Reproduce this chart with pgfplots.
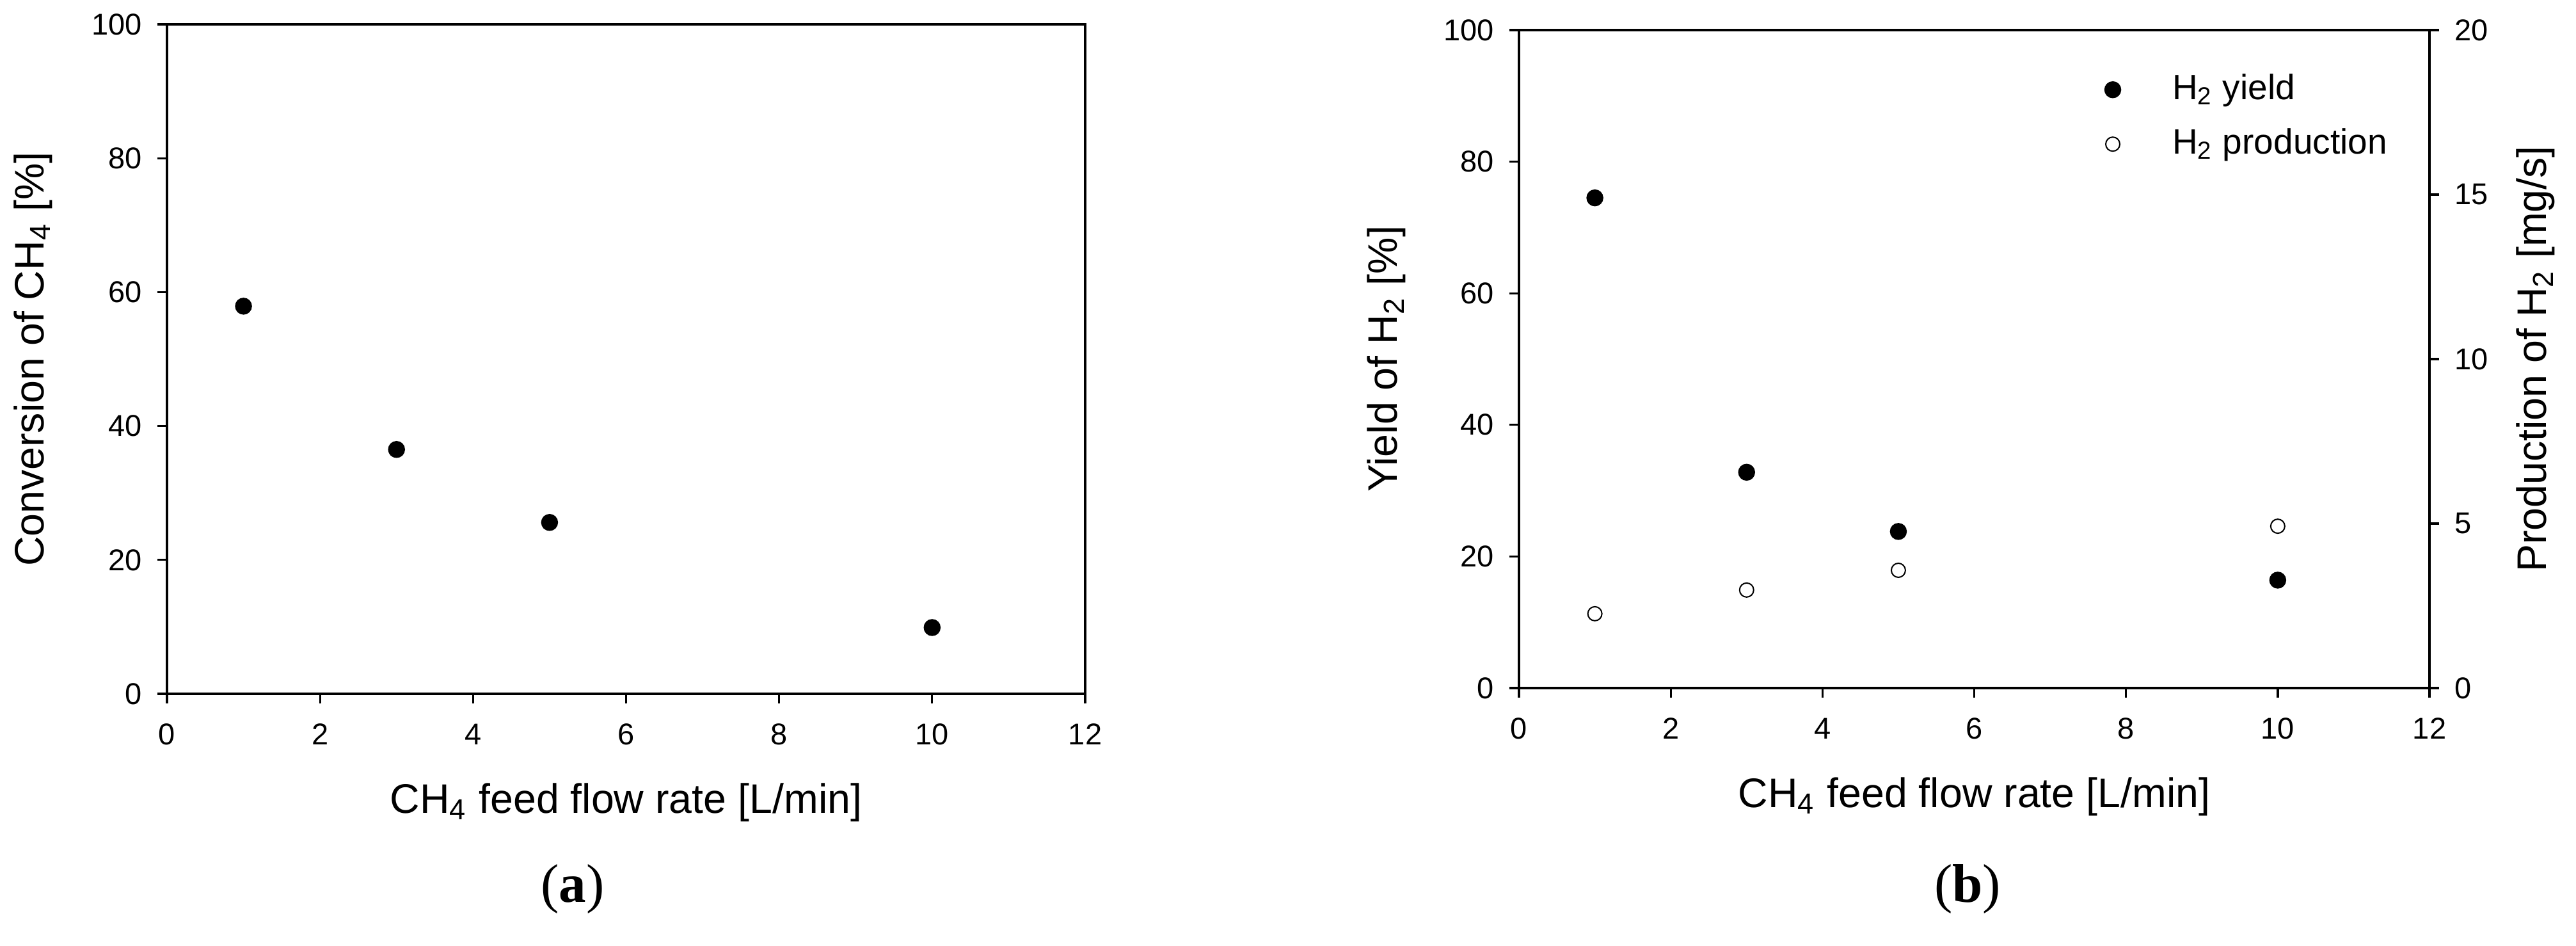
\documentclass[border=0pt]{standalone}
\usepackage{fontspec}
\setmainfont{Liberation Sans}
\newfontfamily\capfont{Liberation Serif}
\usepackage{pgfplots}
\pgfplotsset{compat=1.18}

\pgfplotsset{
  panel/.style={
    scale only axis,
    xmin=0, xmax=12, xtick={0,2,...,12},
    tick align=outside,
    major tick length=3pt,
    axis line style={line width=0.66pt},
    every tick/.style={line width=0.66pt, black},
    tick label style={font=\fontsize{9.4}{10}\selectfont},
    label style={font=\fontsize{12.9}{14}\selectfont},
    /pgf/number format/assume math mode=true,
    xticklabel shift=2.8pt,
    yticklabel shift=1.3pt,
  },
  full dot/.style={only marks, mark=*, mark size=2.5pt,
    mark options={draw=black, fill=black, line width=0.3pt}},
  open dot/.style={only marks, mark=o, mark size=2.2pt,
    mark options={draw=black, fill=white, line width=0.4pt}},
}

\begin{document}
\begin{tikzpicture}
\useasboundingbox (0,0) rectangle (805.2pt,295.4pt);

% (a) conversion
\begin{axis}[panel,
  at={(52.2pt,78.6pt)}, anchor=south west,
  width=287pt, height=209.2pt,
  xtick pos=bottom, ytick pos=left,
  ymin=0, ymax=100, ytick={0,20,...,100},
  xlabel={CH\textsubscript{4} feed flow rate [L/min]},
  ylabel={Conversion of CH\textsubscript{4} [\%]},
  xlabel style={at={(axis description cs:0.5,-0.162)}, anchor=center},
  ylabel style={at={(axis description cs:-0.146,0.5)}, anchor=center},
]
\addplot[full dot] coordinates {(1,57.9) (3,36.5) (5,25.6) (10,9.9)};
\end{axis}

% (b) yield, left axis
\begin{axis}[panel,
  at={(474.8pt,80.4pt)}, anchor=south west,
  width=284.6pt, height=205.6pt,
  xtick pos=bottom, ytick pos=left,
  ymin=0, ymax=100, ytick={0,20,...,100},
  xlabel={CH\textsubscript{4} feed flow rate [L/min]},
  ylabel={Yield of H\textsubscript{2} [\%]},
  xlabel style={at={(axis description cs:0.5,-0.165)}, anchor=center},
  ylabel style={at={(axis description cs:-0.1455,0.5)}, anchor=center},
  legend style={at={(axis cs:7.83,86.8)}, anchor=west, xshift=-2.8pt,
    draw=none, fill=none, inner sep=0pt, column sep=0pt, row sep=5pt,
    font=\fontsize{11}{13}\selectfont,
    nodes={inner sep=0pt, text height=9pt, text depth=3pt}},
  legend cell align=left,
  legend image code/.code={\path[draw=none, fill=none] (0pt,0pt) -- (18.6pt,0pt);
    \draw[#1] plot coordinates {(0pt,0pt)};},
]
\addplot[full dot] coordinates {(1,74.5) (3,32.8) (5,23.8) (10,16.4)};
\addlegendentry{H\textsubscript{2} yield}
\addlegendimage{open dot}
\addlegendentry{H\textsubscript{2} production}
\end{axis}

% (b) production, right axis
\begin{axis}[panel,
  at={(474.8pt,80.4pt)}, anchor=south west,
  width=284.6pt, height=205.6pt,
  axis x line=none, axis y line*=right,
  ymin=0, ymax=20, ytick={0,5,...,20},
  ylabel={Production of H\textsubscript{2} [mg/s]},
  ylabel style={at={(axis description cs:1.1167,0.5)}, anchor=center},
]
\addplot[open dot] coordinates {(1,2.26) (3,2.98) (5,3.58) (10,4.92)};
\end{axis}

\node[font=\capfont\fontsize{17}{19}\selectfont] at (179pt,17.5pt) {(\textbf{a})};
\node[font=\capfont\fontsize{17}{19}\selectfont] at (615pt,17.5pt) {(\textbf{b})};
\end{tikzpicture}
\end{document}
